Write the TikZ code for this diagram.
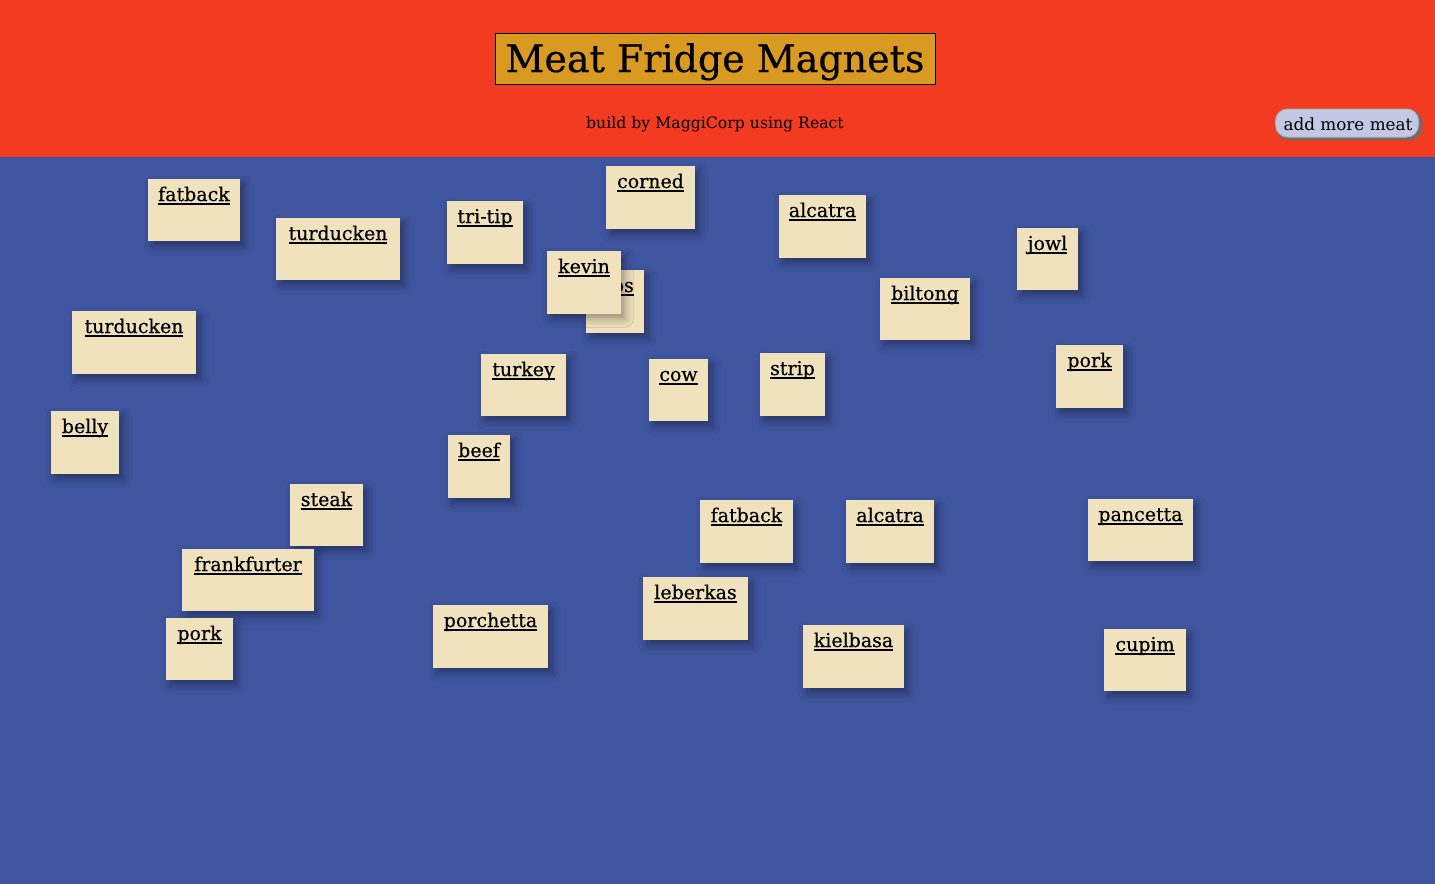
\documentclass[tikz,border=0pt]{standalone}
\usepackage{fontspec}
\setmainfont{DejaVu Serif}
\newfontfamily\heavier{DejaVu Serif}[BoldFont={DejaVu Serif}, BoldFeatures={FakeBold=0.5}]
\usetikzlibrary{shadows.blur}
\definecolor{hdr}{HTML}{F33B21}
\definecolor{fridge}{HTML}{3F55A0}
\definecolor{gold}{HTML}{D99A22}
\definecolor{paper}{HTML}{F0E2BD}
\definecolor{btn}{HTML}{C3C8E4}
\newcommand\ulword[1]{\setbox0\hbox{#1}\rlap{\rule[-3.5pt]{\wd0}{1.8pt}}\box0}
\tikzset{
  magnetbox/.style={fill=paper, draw=none, inner sep=0,
    blur shadow={shadow xshift=4pt, shadow yshift=-5pt, shadow blur radius=8pt, shadow opacity=35}},
  magtext/.style={font=\heavier\bfseries\fontsize{19}{22}\selectfont, anchor=base, inner sep=0},
  hdrtext/.style={inner sep=0, anchor=base},
}
\newcommand\meatmag[6]{%
  \node[magnetbox, anchor=north west, minimum width={(#4-#2)*1pt}, minimum height={(#5-#3)*1pt}] (#1) at (#2,#3) {};
  \node[magtext] (#1t) at ({(#2+#4)/2},{#3+22}) {\ulword{#6}};}
\begin{document}
\begin{tikzpicture}[x=1pt,y=-1pt]
\useasboundingbox (0,0) rectangle (1435,884);
\fill[fridge] (0,0) rectangle (1435,884);
\fill[hdr] (0,0) rectangle (1435,157);
\node[fill=gold, draw=black, line width=0.8pt, minimum width=440pt, minimum height=51pt, inner sep=0] (title) at (715,58.5) {};
\node[hdrtext, font=\heavier\bfseries\fontsize{38}{44}\selectfont] (titlet) at (715,72) {Meat Fridge Magnets};
\node[hdrtext, font=\fontsize{15.7}{18}\selectfont] (sub) at (715,128) {build by MaggiCorp using React};
% button
\fill[gray!85!black, rounded corners=12pt] (1276,110) rectangle (1422,140);
\node[fill=btn, draw=gray!60, line width=1pt, rounded corners=12pt, minimum width=143pt, minimum height=28pt, inner sep=0] (button) at (1347,123) {};
\node[hdrtext, font=\fontsize{16.8}{19}\selectfont] (buttont) at (1348,130) {add more meat};
% magnets
\meatmag{m1}{148}{179}{240}{241}{fatback}
\meatmag{m2}{276}{218}{400}{280}{turducken}
\meatmag{m3}{447}{201}{523}{264}{tri-tip}
\meatmag{m4}{606}{166}{695}{229}{corned}
\meatmag{m5}{779}{195}{866}{258}{alcatra}
\meatmag{m6}{1017}{228}{1078}{290}{jowl}
\node[magnetbox, anchor=north west, minimum width=58pt, minimum height=63pt] (m7) at (586,270) {};
\node[magtext, anchor=base east] (m7t) at (634,292) {\ulword{ps}};
\meatmag{m8}{547}{251}{621}{314}{kevin}
\meatmag{m9}{880}{278}{970}{340}{biltong}
\meatmag{m10}{72}{311}{196}{374}{turducken}
\meatmag{m11}{481}{354}{566}{416}{turkey}
\meatmag{m12}{649}{359}{708}{421}{cow}
\meatmag{m13}{760}{353}{825}{416}{strip}
\meatmag{m14}{1056}{345}{1123}{408}{pork}
\meatmag{m15}{51}{411}{119}{474}{belly}
\meatmag{m16}{448}{435}{510}{498}{beef}
\meatmag{m17}{290}{484}{363}{546}{steak}
\meatmag{m18}{700}{500}{793}{563}{fatback}
\meatmag{m19}{846}{500}{934}{563}{alcatra}
\meatmag{m20}{1088}{499}{1193}{561}{pancetta}
\meatmag{m21}{182}{549}{314}{611}{frankfurter}
\meatmag{m22}{643}{577}{748}{640}{leberkas}
\meatmag{m23}{166}{618}{233}{680}{pork}
\meatmag{m24}{433}{605}{548}{668}{porchetta}
\meatmag{m25}{803}{625}{904}{688}{kielbasa}
\meatmag{m26}{1104}{629}{1186}{691}{cupim}
\end{tikzpicture}
\end{document}
